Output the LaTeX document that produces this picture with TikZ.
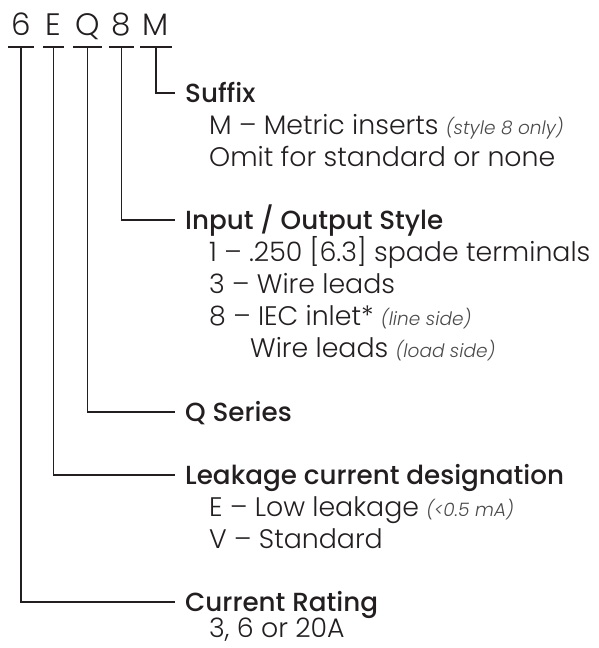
\documentclass[tikz,border=0pt]{standalone}
\usepackage{fontspec}
\setmainfont{Poppins}
\IfFontExistsTF{Poppins Light}{\newfontfamily\lightf{Poppins Light}}{\newfontfamily\lightf{Poppins}}
\IfFontExistsTF{Poppins Medium}{\newfontfamily\medf{Poppins Medium}}{\newfontfamily\medf{Poppins}}
\IfFontExistsTF{Poppins Light Italic}{\newfontfamily\lightit{Poppins Light Italic}}{%
  \IfFontExistsTF{Poppins Italic}{\newfontfamily\lightit{Poppins Italic}}{\newfontfamily\lightit{Poppins}[FakeSlant=0.2]}}
\definecolor{ink}{HTML}{231F20}
\definecolor{notec}{HTML}{4A4A4A}
\newcommand{\noteit}[1]{{\fontsize{18.5}{21}\selectfont\lightit\color{notec}#1}}
\begin{document}
\begin{tikzpicture}[x=1pt,y=1pt,
  digit/.style={inner sep=0pt, anchor=base, text height=20pt, text depth=12pt,
    font=\fontsize{31}{34}\selectfont\lightf, text=ink},
  head/.style={inner sep=0pt, anchor=base west, text height=18pt, text depth=0pt,
    font=\fontsize{26.2}{30}\selectfont\medf, text=ink},
  item/.style={inner sep=0pt, anchor=base west,
    font=\fontsize{26.8}{30}\selectfont\lightf, text=ink},
  conn/.style={draw=ink, line width=1.8pt},
]
\useasboundingbox (0,0) rectangle (598,-648);
% code letters
\node[digit, minimum width=25pt] (l6) at (21,-35) {6};
\node[digit, minimum width=21pt] (lE) at (53.5,-35) {E};
\node[digit, minimum width=29pt] (lQ) at (87.5,-35) {Q};
\node[digit, minimum width=25pt] (l8) at (121.5,-35) {8};
\node[digit, minimum width=31pt] (lM) at (156,-35) {M};
\foreach \n in {l6,lE,lQ,l8,lM}{\draw[conn] (\n.south west) -- (\n.south east);}
% headings
\node[head] (hSuf) at (185,-102) {Suffix};
\node[head] (hIO)  at (185,-229) {Input / Output Style};
\node[head] (hQ)   at (185,-421) {Q Series};
\node[head] (hLk)  at (185,-484) {Leakage current designation};
\node[head] (hCur) at (185,-611) {Current Rating};
% items
\node[item] (s1) at (209,-134) {M – Metric inserts \noteit{(style 8 only)}};
\node[item] (s2) at (209,-166) {Omit for standard or none};
\node[item] (i1) at (209,-261) {1 – .250 [6.3] spade terminals};
\node[item] (i2) at (209,-293) {3 – Wire leads};
\node[item] (i3) at (209,-325) {8 – IEC inlet* \noteit{(line side)}};
\node[item] (i4) at (250,-357) {Wire leads \noteit{(load side)}};
\node[item] (k1) at (209,-516) {E – Low leakage \noteit{(<0.5 mA)}};
\node[item] (k2) at (209,-548) {V – Standard};
\node[item, text depth=3pt] (c1) at (209,-637) {3, 6 or 20A};
% connectors
\draw[conn] (lM.south) |- ([xshift=-10pt]hSuf.west);
\draw[conn] (l8.south) |- ([xshift=-10pt]hIO.west);
\draw[conn] (lQ.south) |- ([xshift=-10pt]hQ.west);
\draw[conn] (lE.south) |- ([xshift=-10pt]hLk.west);
\draw[conn] (l6.south) |- ([xshift=-10pt]hCur.west);
\end{tikzpicture}
\end{document}
